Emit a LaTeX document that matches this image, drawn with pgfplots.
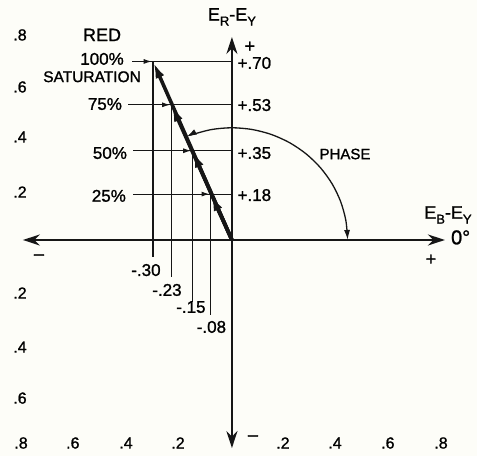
\documentclass[border=0pt]{standalone}
\usepackage{pgfplots}
\pgfplotsset{compat=1.18}
\usepackage{fontspec}
\setmainfont[FakeBold=1.2]{Liberation Sans}
\usetikzlibrary{arrows.meta}
\definecolor{bg}{RGB}{253,253,248}
\definecolor{ink}{RGB}{22,22,22}
\newcommand{\sub}[1]{\raisebox{-5pt}{\fontsize{13}{13}\selectfont #1}}
\begin{document}
\begin{tikzpicture}
\begin{axis}[scale only axis, width=477pt, height=456pt,
  xmin=-0.882, xmax=0.932, ymin=-0.847, ymax=0.941,
  axis lines=none, clip=false,
  guide/.style={ink, line width=1.1pt, mark=none},
  vec/.style={ink, line width=3.6pt, mark=none, -{Latex[length=17pt,width=9pt]}},
  ax/.style={ink, line width=2.4pt, mark=none, {Stealth[length=17pt,width=11pt]}-{Stealth[length=17pt,width=11pt]}},
  every node/.style={text=ink, inner sep=0pt}]
\fill[bg] (rel axis cs:0,0) rectangle (rel axis cs:1,1);
% guide lines
\addplot[guide] coordinates {(-0.30,0.70) (-0.30,-0.067)};
\addplot[guide] coordinates {(-0.23,0.53) (-0.23,-0.145)};
\addplot[guide] coordinates {(-0.15,0.35) (-0.15,-0.243)};
\addplot[guide] coordinates {(-0.08,0.18) (-0.08,-0.294)};
\addplot[guide] coordinates {(-0.38,0.70) (0,0.70)};
\addplot[guide] coordinates {(-0.395,0.53) (0,0.53)};
\addplot[guide] coordinates {(-0.376,0.35) (0,0.35)};
\addplot[guide] coordinates {(-0.376,0.18) (0,0.18)};
\addplot[guide, -{Latex[length=8pt,width=5pt]}] coordinates {(-0.38,0.70) (-0.305,0.70)};
\addplot[guide, -{Latex[length=8pt,width=5pt]}] coordinates {(-0.395,0.53) (-0.235,0.53)};
\addplot[guide, -{Latex[length=8pt,width=5pt]}] coordinates {(-0.376,0.35) (-0.155,0.35)};
\addplot[guide, -{Latex[length=8pt,width=5pt]}] coordinates {(-0.376,0.18) (-0.085,0.18)};
% axes
\addplot[ax] coordinates {(-0.795,0) (0.81,0)};
\addplot[ax] coordinates {(0,-0.816) (0,0.796)};
% phase arc
\addplot[ink, line width=1.3pt, mark=none, smooth, {Latex[length=10pt,width=6pt]}-{Latex[length=10pt,width=6pt]}] coordinates {
(-0.1719,0.4050) (-0.1505,0.4135) (-0.0764,0.4333) (0,0.44) (0.0764,0.4333)
(0.1505,0.4135) (0.22,0.3811) (0.2828,0.3371) (0.3371,0.2828) (0.3811,0.22)
(0.4135,0.1505) (0.4333,0.0764) (0.44,0.0)};
% vectors
\addplot[vec] coordinates {(0,0) (-0.08,0.18)};
\addplot[vec] coordinates {(0,0) (-0.15,0.35)};
\addplot[vec] coordinates {(0,0) (-0.23,0.53)};
\addplot[vec] coordinates {(0,0) (-0.30,0.70)};
% scale labels
\begin{scope}[every node/.append style={font=\fontsize{16}{18}\selectfont}]
\node at (axis cs:-0.806,0.804) {.8};
\node at (axis cs:-0.806,0.60) {.6};
\node at (axis cs:-0.806,0.404) {.4};
\node at (axis cs:-0.806,0.188) {.2};
\node at (axis cs:-0.806,-0.208) {.2};
\node at (axis cs:-0.806,-0.42) {.4};
\node at (axis cs:-0.806,-0.62) {.6};
\node at (axis cs:-0.802,-0.796) {.8};
\node at (axis cs:-0.605,-0.796) {.6};
\node at (axis cs:-0.403,-0.796) {.4};
\node at (axis cs:-0.205,-0.796) {.2};
\node at (axis cs:0.194,-0.796) {.2};
\node at (axis cs:0.392,-0.796) {.4};
\node at (axis cs:0.593,-0.796) {.6};
\node at (axis cs:0.795,-0.796) {.8};
\end{scope}
% value labels
\begin{scope}[every node/.append style={font=\fontsize{17}{19}\selectfont}]
\node[anchor=west] at (axis cs:0.008,0.694) {+.70};
\node[anchor=west] at (axis cs:0.008,0.529) {+.53};
\node[anchor=west] at (axis cs:0.008,0.341) {+.35};
\node[anchor=west] at (axis cs:0.008,0.176) {+.18};
\node at (axis cs:-0.327,-0.118) {-.30};
\node at (axis cs:-0.247,-0.196) {-.23};
\node at (axis cs:-0.156,-0.263) {-.15};
\node at (axis cs:-0.078,-0.341) {-.08};
\node at (axis cs:-0.494,0.71) {100\%};
\node at (axis cs:-0.483,0.533) {75\%};
\node at (axis cs:-0.464,0.341) {50\%};
\node at (axis cs:-0.468,0.173) {25\%};
\end{scope}
\node[font=\fontsize{18}{20}\selectfont] at (axis cs:-0.494,0.804) {RED};
\node[font=\fontsize{15.5}{18}\selectfont] at (axis cs:-0.532,0.64) {SATURATION};
\node[font=\fontsize{15}{18}\selectfont] at (axis cs:0.43,0.337) {PHASE};
% axis signs and names
\begin{scope}[every node/.append style={font=\fontsize{18}{20}\selectfont}]
\node at (axis cs:0.068,0.757) {+};
\node at (axis cs:0.757,-0.078) {+};
\node at (axis cs:-0.734,-0.067) {\textendash};
\node at (axis cs:0.08,-0.776) {\textendash};
\node[anchor=west, font=\fontsize{20}{22}\selectfont] at (axis cs:0.82,0.01) {0°};
\node at (axis cs:0,0.875) {E\sub{R}-E\sub{Y}};
\node[anchor=east] at (axis cs:0.925,0.098) {E\sub{B}-E\sub{Y}};
\end{scope}
\end{axis}
\pgfresetboundingbox
\path (current axis.south west) rectangle (current axis.north east);
\end{tikzpicture}
\end{document}
